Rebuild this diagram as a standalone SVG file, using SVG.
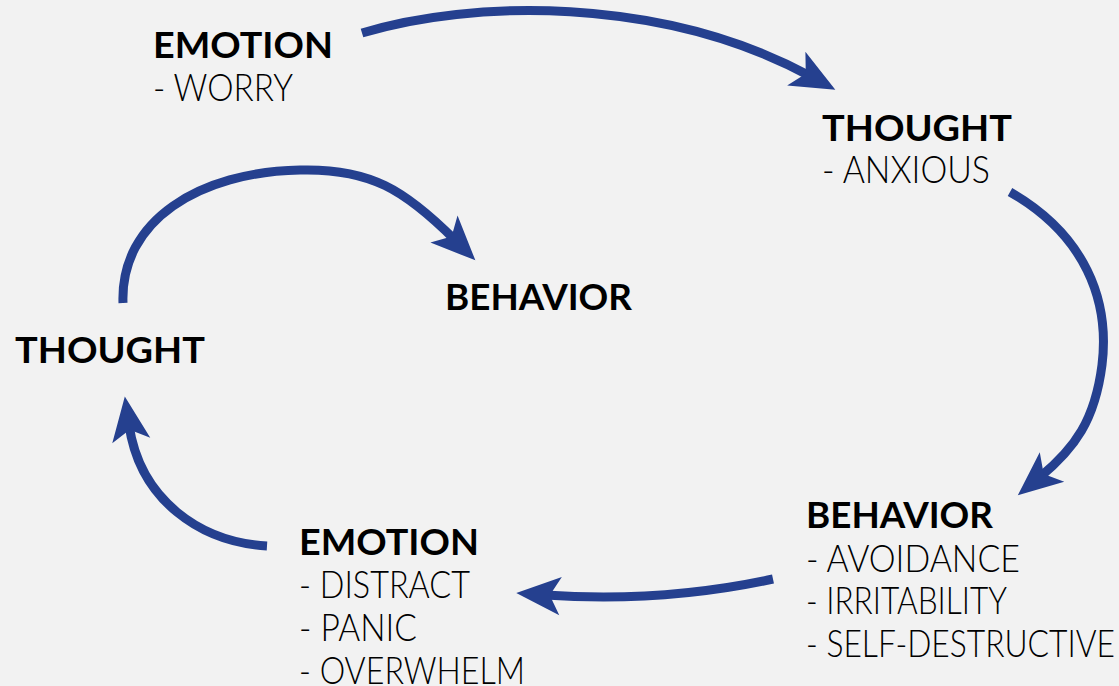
<svg xmlns="http://www.w3.org/2000/svg" width="1119" height="686" viewBox="0 0 1119 686">
<style>
.t{font-family:Lato,"Liberation Sans",sans-serif;font-weight:700;font-size:37px;fill:#000}
.s{font-family:Lato,"Liberation Sans",sans-serif;font-weight:300;font-size:37px;fill:#000}
.c{fill:none;stroke:#25408f;stroke-width:9}
</style>
<defs>
<marker id="ah" markerUnits="userSpaceOnUse" markerWidth="60" markerHeight="60" viewBox="-20 -20 50 40" refX="0" refY="0" orient="auto" overflow="visible">
<polygon points="24,0 -13,-16 -4,0 -13,16" fill="#25408f"/>
</marker>
</defs>
<rect width="1119" height="686" fill="#f2f2f2"/>
<g id="connectors">
<path class="c" marker-end="url(#ah)" d="M362,33 C470,0 660,-5 810,76"/>
<path class="c" marker-end="url(#ah)" d="M1010,192 C1085,235 1110,300 1102,365 C1095,420 1075,448 1040,477"/>
<path class="c" marker-end="url(#ah)" d="M773,579 C700,595 620,600 545,595"/>
<path class="c" marker-end="url(#ah)" d="M267,546 C200,542 140,500 129,425"/>
<path class="c" marker-end="url(#ah)" d="M123,303 C120,220 200,172 300,170 C370,168 405,190 455,240"/>
</g>
<g id="emotion-top">
<text class="t" x="153" y="58" textLength="180" lengthAdjust="spacingAndGlyphs">EMOTION</text>
<text class="s" x="153" y="101" textLength="140" lengthAdjust="spacingAndGlyphs">- WORRY</text>
</g>
<g id="thought-right">
<text class="t" x="822" y="141" textLength="190" lengthAdjust="spacingAndGlyphs">THOUGHT</text>
<text class="s" x="822" y="183" textLength="168" lengthAdjust="spacingAndGlyphs">- ANXIOUS</text>
</g>
<g id="behavior-mid">
<text class="t" x="445" y="310" textLength="187" lengthAdjust="spacingAndGlyphs">BEHAVIOR</text>
</g>
<g id="thought-left">
<text class="t" x="15" y="363" textLength="190" lengthAdjust="spacingAndGlyphs">THOUGHT</text>
</g>
<g id="behavior-right">
<text class="t" x="806" y="528" textLength="187" lengthAdjust="spacingAndGlyphs">BEHAVIOR</text>
<text class="s" x="806" y="572" textLength="214" lengthAdjust="spacingAndGlyphs">- AVOIDANCE</text>
<text class="s" x="806" y="614" textLength="201" lengthAdjust="spacingAndGlyphs">- IRRITABILITY</text>
<text class="s" x="806" y="657" textLength="309" lengthAdjust="spacingAndGlyphs">- SELF-DESTRUCTIVE</text>
</g>
<g id="emotion-bottom">
<text class="t" x="299" y="555" textLength="180" lengthAdjust="spacingAndGlyphs">EMOTION</text>
<text class="s" x="299" y="598" textLength="171" lengthAdjust="spacingAndGlyphs">- DISTRACT</text>
<text class="s" x="299" y="641" textLength="118" lengthAdjust="spacingAndGlyphs">- PANIC</text>
<text class="s" x="299" y="684" textLength="226" lengthAdjust="spacingAndGlyphs">- OVERWHELM</text>
</g>
</svg>
